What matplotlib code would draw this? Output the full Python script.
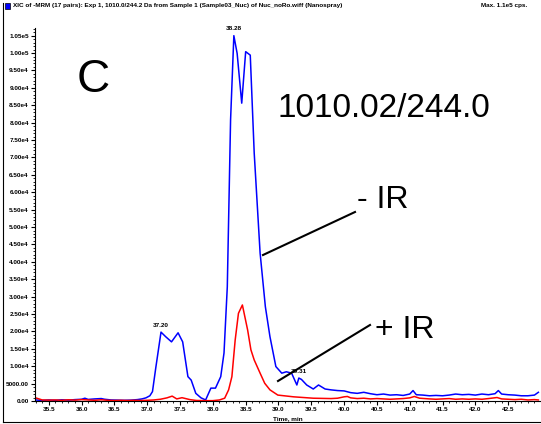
import matplotlib
matplotlib.use('Agg')
import matplotlib.pyplot as plt
from matplotlib.ticker import MultipleLocator, FixedLocator, FuncFormatter
from matplotlib.lines import Line2D
from matplotlib.font_manager import FontProperties

# blue trace (- IR)
t_minus = [35.30, 35.40, 35.50, 35.60, 35.70, 35.80, 35.90, 36.00, 36.05, 36.10,
           36.20, 36.30, 36.35, 36.45, 36.55, 36.65, 36.75, 36.85, 36.92, 36.98,
           37.04, 37.08, 37.13, 37.21, 37.28, 37.37, 37.47, 37.54, 37.62, 37.67,
           37.74, 37.82, 37.89, 37.97, 38.04, 38.12, 38.17, 38.22, 38.27, 38.32,
           38.37, 38.44, 38.50, 38.57, 38.63, 38.72, 38.80, 38.87,
           38.96, 39.05, 39.12, 39.20, 39.28, 39.31, 39.35, 39.43, 39.53, 39.61,
           39.71, 39.80, 39.90, 40.00, 40.10, 40.20, 40.30, 40.40, 40.50, 40.60,
           40.70, 40.80, 40.90, 41.00, 41.05, 41.10, 41.20, 41.30, 41.40, 41.50,
           41.60, 41.70, 41.80, 41.90, 42.00, 42.10, 42.20, 42.30, 42.35, 42.40,
           42.50, 42.60, 42.70, 42.80, 42.90, 42.96]
i_minus = [300, 150, 300, 200, 350, 250, 400, 500, 800, 450,
           600, 700, 500, 300, 250, 200, 250, 400, 600, 900,
           1500, 2700, 9500, 19800, 18500, 17000, 19600, 17000, 7000, 6000,
           2200, 900, 300, 3700, 3700, 7000, 13800, 32800, 80800, 105000,
           99900, 85600, 100400, 99400, 71300, 42500, 27100, 18500,
           9900, 8000, 8400, 8000, 4600, 6600, 6200, 4600, 3450, 4600,
           3450, 3200, 3000, 2900, 2400, 2200, 2500, 2100, 1800, 2000,
           1700, 1800, 1600, 2000, 3000, 1800, 1700, 1500, 1600, 1500,
           1700, 2000, 1800, 1900, 1700, 2000, 1800, 2100, 3000, 2000,
           1800, 1700, 1500, 1500, 1700, 2500]

# red trace (+ IR)
t_plus = [35.30, 35.35, 35.40, 35.50, 35.60, 35.70, 35.80, 35.90, 36.00, 36.10,
          36.20, 36.30, 36.40, 36.50, 36.60, 36.70, 36.80, 36.90, 37.00, 37.10,
          37.20, 37.30, 37.38, 37.45, 37.53, 37.65, 37.75, 37.90, 38.00, 38.10,
          38.18, 38.24, 38.29, 38.34, 38.39, 38.45, 38.53, 38.58, 38.63, 38.72,
          38.79, 38.87, 38.99, 39.23, 39.53, 39.80, 39.90, 40.00, 40.05, 40.10,
          40.20, 40.30, 40.40, 40.50, 40.60, 40.70, 40.80, 40.90, 41.00, 41.07,
          41.15, 41.30, 41.40, 41.50, 41.60, 41.70, 41.80, 41.90, 42.00, 42.10,
          42.20, 42.33, 42.40, 42.50, 42.60, 42.70, 42.80, 42.90, 42.96]
i_plus = [900, 600, 300, 250, 300, 200, 350, 250, 400, 300,
          200, 350, 200, 150, 200, 150, 200, 150, 200, 300,
          500, 900, 1400, 600, 950, 400, 150, 100, 100, 300,
          800, 3200, 7000, 17500, 25200, 27600, 20400, 14700, 11800, 8000,
          5100, 3200, 1700, 1200, 800, 700, 800, 1200, 1300, 900,
          700, 800, 600, 700, 600, 500, 600, 700, 900, 1300,
          800, 600, 500, 600, 700, 500, 600, 500, 600, 500,
          700, 1000, 600, 500, 400, 500, 300, 400, 300]

x_ticks = [35.5, 36.0, 36.5, 37.0, 37.5, 38.0, 38.5, 39.0, 39.5, 40.0,
           40.5, 41.0, 41.5, 42.0, 42.5]
# (time on trace, height, label)
peaks = [(37.21, 19800, '37.20'), (38.32, 105000, '38.28'), (39.31, 6600, '39.31')]

W, H = 541, 424
fig = plt.figure(figsize=(W / 100, H / 100), dpi=100)
ax = fig.add_axes([35 / W, 1 - 401 / H, (W - 35) / W, (401 - 28) / H])

def px(x, y):
    return (x / W, 1 - y / H)

ax.plot(t_minus, i_minus, color='#0000ff', lw=1.1)
ax.plot(t_plus, i_plus, color='#ff0000', lw=1.1)

ax.set_xlim(35.29, 43.0)
ax.set_ylim(0, 107200)

tick_font = dict(family=['Liberation Sans Narrow', 'Liberation Sans', 'DejaVu Sans'],
                 size=4.6, weight='bold')

ax.xaxis.set_major_locator(FixedLocator(x_ticks))
ax.xaxis.set_minor_locator(MultipleLocator(0.1))
ax.xaxis.set_major_formatter(FuncFormatter(lambda v, p: '%.1f' % v))
ax.yaxis.set_major_locator(MultipleLocator(5000))
ax.yaxis.set_minor_locator(MultipleLocator(1000))

def yfmt(v, p):
    if v < 1e4:
        return '%.2f' % v
    m, e = ('%.2e' % v).split('e')
    return m + 'e' + str(int(e))

ax.yaxis.set_major_formatter(FuncFormatter(yfmt))
ax.tick_params(which='major', direction='out', length=3, width=0.8, pad=1.5)
ax.tick_params(which='minor', direction='out', length=1.5, width=0.6)
for lab in ax.get_xticklabels() + ax.get_yticklabels():
    lab.set_fontproperties(FontProperties(**tick_font))

for s in ['top', 'right']:
    ax.spines[s].set_visible(False)
for s in ['left', 'bottom']:
    ax.spines[s].set_linewidth(0.8)

ax.set_xlabel('Time, min', fontdict=tick_font, labelpad=2.5)

for t, v, lab in peaks:
    ax.text(t, v + 1200, lab, ha='center', va='bottom', **tick_font)

# header line
fig.patches.append(plt.Rectangle(px(5, 9), 5 / W, 6 / H, transform=fig.transFigure,
                                 facecolor='#0000ff', edgecolor='black', lw=0.5))
fig.text(*px(13, 6), 'XIC of -MRM (17 pairs): Exp 1, 1010.0/244.2 Da from Sample 1 '
         '(Sample03_Nuc) of Nuc_noRo.wiff (Nanospray)', va='center', ha='left', **tick_font)
fig.text(*px(527, 6), 'Max. 1.1e5 cps.', va='center', ha='right', **tick_font)

# frame
fig.lines.append(Line2D([3 / W, 3 / W], [1 - 3 / H, 1 - 422 / H], transform=fig.transFigure,
                        color='black', lw=0.8))
fig.lines.append(Line2D([3 / W, 1], [1 - 422 / H, 1 - 422 / H], transform=fig.transFigure,
                        color='black', lw=0.8))

big = ['Liberation Sans', 'DejaVu Sans']
fig.text(*px(93, 80), 'C', fontsize=33, family=big, ha='center', va='center')
fig.text(*px(278, 117), '1010.02/244.0', fontsize=24, family=big, ha='left', va='baseline')
fig.text(*px(357, 208), '- IR', fontsize=23, family=big, ha='left', va='baseline')
fig.text(*px(375, 338), '+ IR', fontsize=23, family=big, ha='left', va='baseline')

for (x0, y0), (x1, y1) in [((355, 212), (263, 255)), ((370, 325), (278, 381))]:
    a, b = px(x0, y0)
    c, d = px(x1, y1)
    fig.lines.append(Line2D([a, c], [b, d], transform=fig.transFigure, color='black', lw=1.5))

fig.savefig('out.png', dpi=100)
